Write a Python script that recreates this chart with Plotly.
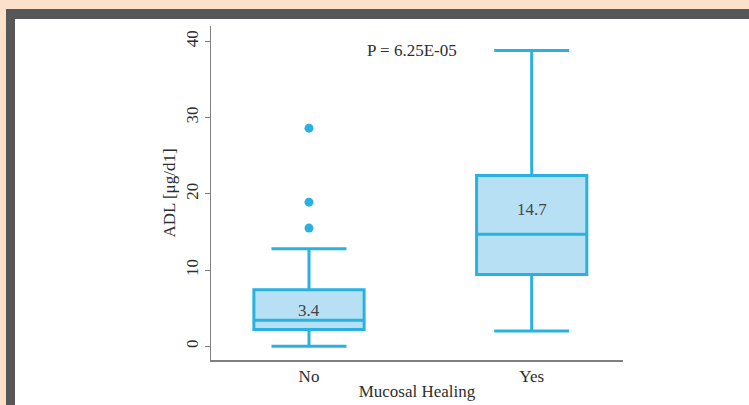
import plotly.graph_objects as go

categories = ["No", "Yes"]
q1 = [2.2, 9.4]
median = [3.4, 14.7]
q3 = [7.4, 22.4]
lowerfence = [0.0, 2.0]
upperfence = [12.8, 38.8]
outlier_cat = ["No", "No", "No"]
outlier_val = [15.5, 18.9, 28.6]
median_labels = ["3.4", "14.7"]
p_text = "P = 6.25E-05"
yticks = [0, 10, 20, 30, 40]

LINE = "#29b2e1"
FILL = "#b8e0f5"
FONT = "Liberation Serif"
TXT = "#2e2e2e"
FS = 17

W, H = 749, 405
L, R, T, B = 211, 126, 26, 45
PW, PH = W - L - R, H - T - B

def px(x):
    return (x - L) / PW

def py(y):
    return (H - B - y) / PH

fig = go.Figure()
fig.add_trace(go.Box(
    x=categories, q1=q1, median=median, q3=q3,
    lowerfence=lowerfence, upperfence=upperfence,
    boxpoints=False, line=dict(color=LINE, width=3), fillcolor=FILL,
    width=0.495, whiskerwidth=0.68, showlegend=False, hoverinfo="skip",
))
fig.add_trace(go.Scatter(
    x=outlier_cat, y=outlier_val, mode="markers",
    marker=dict(color=LINE, size=9), showlegend=False, hoverinfo="skip",
))

for c, m, top, lab in zip(categories, median, q3, median_labels):
    fig.add_annotation(x=c, y=(m + top) / 2, text=lab, showarrow=False, yshift=-5,
                       font=dict(family=FONT, size=FS, color="#444"))

fig.add_annotation(x=px(412), y=upperfence[1], xref="paper", yref="y",
                   text=p_text, showarrow=False,
                   font=dict(family=FONT, size=FS, color=TXT))

shapes = [
    dict(type="rect", xref="paper", yref="paper", x0=px(-2), x1=px(W + 2), y0=py(9), y1=py(-2),
         fillcolor="#fde0ca", line_width=0, layer="below"),
    dict(type="rect", xref="paper", yref="paper", x0=px(-2), x1=px(6), y0=py(H + 2), y1=py(9),
         fillcolor="#fde0ca", line_width=0, layer="below"),
    dict(type="rect", xref="paper", yref="paper", x0=px(6), x1=px(W + 2), y0=py(19), y1=py(9),
         fillcolor="#555759", line_width=0, layer="below"),
    dict(type="rect", xref="paper", yref="paper", x0=px(6), x1=px(15), y0=py(H + 2), y1=py(19),
         fillcolor="#555759", line_width=0, layer="below"),
]

fig.update_layout(
    width=W, height=H,
    margin=dict(l=L, r=R, t=T, b=B, autoexpand=False),
    paper_bgcolor="white", plot_bgcolor="white",
    shapes=shapes,
    font=dict(family=FONT, size=FS, color=TXT),
    xaxis=dict(
        type="category", range=[-0.44, 1.41], showline=True, linecolor="#808080",
        linewidth=1.5, ticks="", showgrid=False, zeroline=False,
        tickfont=dict(family=FONT, size=FS, color=TXT),
        title=dict(text="Mucosal Healing", font=dict(family=FONT, size=FS, color=TXT),
                   standoff=0),
    ),
    yaxis=dict(
        range=[-1.8, 42], tickvals=yticks, showline=True, linecolor="#808080",
        linewidth=1.5, ticks="outside", ticklen=5, tickcolor="#808080",
        showgrid=False, zeroline=False, tickangle=-90,
        tickfont=dict(family=FONT, size=FS, color=TXT),
        title=dict(text="ADL [μg/d1]", font=dict(family=FONT, size=FS, color=TXT),
                   standoff=3),
    ),
)

fig.write_html(
    "out.html",
    config={"displayModeBar": False, "staticPlot": True},
    post_script="document.body.style.margin='0';document.body.style.overflow='hidden';",
)
